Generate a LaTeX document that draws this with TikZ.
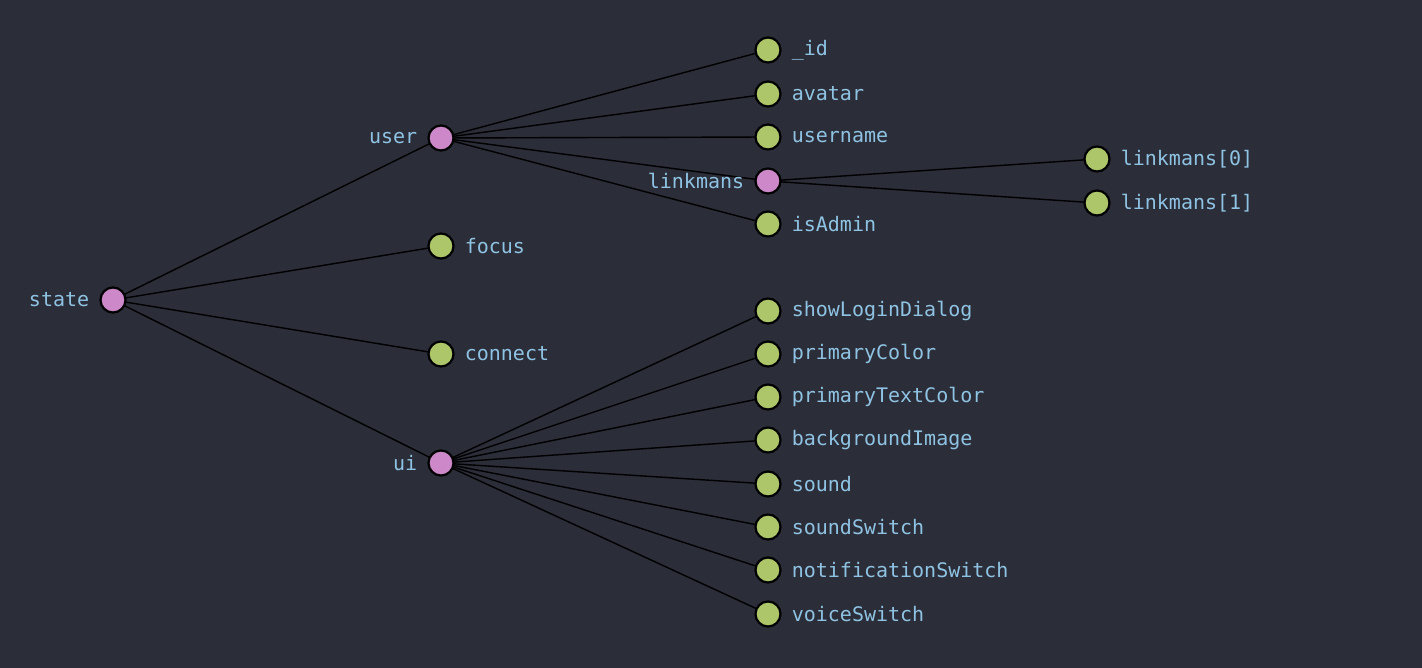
\documentclass[tikz,border=0pt]{standalone}
\usepackage{fontspec}
\setmonofont{DejaVu Sans Mono}
\usetikzlibrary{calc}
\pgfdeclarelayer{bgl}\pgfdeclarelayer{edgel}
\pgfsetlayers{bgl,edgel,main}
\begin{document}
\definecolor{bg}{HTML}{2B2D38}
\definecolor{pk}{HTML}{CC88C8}
\definecolor{gr}{HTML}{ADC66A}
\definecolor{tx}{HTML}{8FC3E3}
\begin{tikzpicture}[x=1pt,y=-1pt,
 dot/.style={circle,draw=black,line width=2.2pt,minimum size=25pt,inner sep=0pt},
 inner/.style={dot,fill=pk},
 leaf/.style={dot,fill=gr},
 lbl/.style={text=tx,font=\ttfamily\fontsize{20}{22}\selectfont,inner sep=0pt},
 edge/.style={draw=black,line width=1.4pt}]
\begin{pgfonlayer}{bgl}
\fill[bg] (0,0) rectangle (1422,668);
\end{pgfonlayer}
\useasboundingbox (0,0) rectangle (1422,668);
\newcommand\lnk[2]{\begin{pgfonlayer}{edgel}\path (#1.center) coordinate (A) (#2.center) coordinate (B);
 \draw[edge] (A) .. controls ($(A)!0.5!(B)$ |- A) and ($(A)!0.5!(B)$ |- B) .. (B);\end{pgfonlayer}}
\node[inner,label={[lbl,xshift=-10pt]left:state}] (state) at (113,300) {};
\node[inner,label={[lbl,xshift=-10pt]left:user}] (user) at (441,138) {};
\node[leaf,label={[lbl,xshift=10pt]right:focus}] (focus) at (441,246) {};
\node[leaf,label={[lbl,xshift=10pt]right:connect}] (connect) at (441,354) {};
\node[inner,label={[lbl,xshift=-10pt]left:ui}] (ui) at (441,463) {};
\node[leaf,label={[lbl,xshift=10pt]right:\_id}] (id) at (768,50) {};
\node[leaf,label={[lbl,xshift=10pt]right:avatar}] (avatar) at (768,94) {};
\node[leaf,label={[lbl,xshift=10pt]right:username}] (username) at (768,137) {};
\node[inner,label={[lbl,xshift=-10pt]left:linkmans}] (linkmans) at (768,181) {};
\node[leaf,label={[lbl,xshift=10pt]right:isAdmin}] (isAdmin) at (768,224) {};
\node[leaf,label={[lbl,xshift=10pt]right:linkmans[0]}] (l0) at (1097,159) {};
\node[leaf,label={[lbl,xshift=10pt]right:linkmans[1]}] (l1) at (1097,203) {};
\foreach \n/\y/\t in {sld/311/showLoginDialog,pc/354/primaryColor,ptc/397/primaryTextColor,bi/440/backgroundImage,snd/484/sound,ss/527/soundSwitch,ns/570/notificationSwitch,vs/614/voiceSwitch}
  \node[leaf,label={[lbl,xshift=10pt]right:\t}] (\n) at (768,\y) {};
\foreach \n in {user,focus,connect,ui} {\lnk{state}{\n}}
\foreach \n in {id,avatar,username,linkmans,isAdmin} {\lnk{user}{\n}}
\foreach \n in {l0,l1} {\lnk{linkmans}{\n}}
\foreach \n in {sld,pc,ptc,bi,snd,ss,ns,vs} {\lnk{ui}{\n}}
\end{tikzpicture}
\end{document}
